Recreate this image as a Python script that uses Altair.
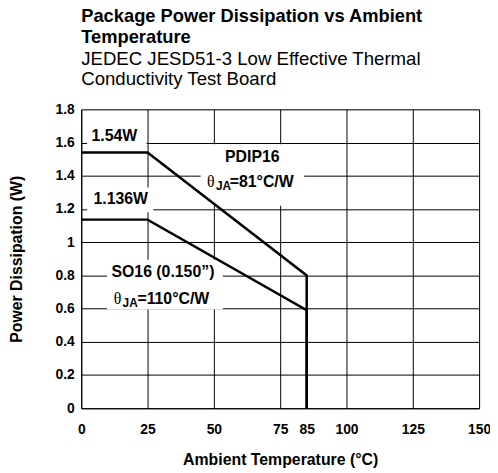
import altair as alt
import pandas as pd

# ---- data ----
temps_pdip = [0, 25, 85, 85]
power_pdip = [1.54, 1.54, 0.80, 0.0]
temps_so16 = [0, 25, 85, 85]
power_so16 = [1.136, 1.136, 0.591, 0.0]

x_ticks = [0, 25, 50, 75, 85, 100, 125, 150]
y_ticks = [0, 0.2, 0.4, 0.6, 0.8, 1.0, 1.2, 1.4, 1.6, 1.8]

FONT = "Liberation Sans"

lines_df = pd.DataFrame(
    {
        "temp": temps_pdip + temps_so16,
        "power": power_pdip + power_so16,
        "series": ["PDIP16"] * len(temps_pdip) + ["SO16"] * len(temps_so16),
        "idx": list(range(len(temps_pdip))) + list(range(len(temps_so16))),
    }
)

# white label boxes (data coordinates)
box_x = [2.2, 2.2, 45.0, 9.7]
box_x2 = [24.6, 27.2, 84.0, 53.4]
box_y = [1.59, 1.18, 1.22, 0.595]
box_y2 = [1.71, 1.33, 1.59, 0.894]
boxes_df = pd.DataFrame({"x": box_x, "x2": box_x2, "y": box_y, "y2": box_y2})

# plain bold labels
lab_text = ["1.54W", "1.136W", "PDIP16", "SO16 (0.150\u201d)"]
lab_x = [12.5, 14.9, 64.5, 30.8]
lab_y = [1.64, 1.257, 1.51, 0.82]
labels_df = pd.DataFrame({"text": lab_text, "x": lab_x, "y": lab_y})

# theta labels: anchor centers
th_rest = ["=81\u00b0C/W", "=110\u00b0C/W"]
th_x = [64.2, 30.5]
th_y = [1.36, 0.655]
th_df = pd.DataFrame({"rest": th_rest, "x": th_x, "y": th_y,
                      "d0": [-45, -49], "d1": [-36, -40], "d2": [-22, -25]})

xs = alt.Scale(domain=[0, 150], nice=False, zero=False)
ys = alt.Scale(domain=[0, 1.8], nice=False)

x_axis = alt.Axis(
    values=x_ticks,
    tickCount=len(x_ticks),
    title="Ambient Temperature (\u00b0C)",
    grid=True,
    gridColor="black",
    gridOpacity=alt.condition("datum.value == 85", alt.value(0), alt.value(1)),
    gridWidth=1,
    ticks=False,
    domainColor="black",
    labelFont=FONT,
    labelFontSize=14,
    labelFontWeight="bold",
    labelColor="black",
    labelPadding=15,
    labelOverlap=False,
    titleFont=FONT,
    titleFontSize=16,
    titleFontWeight="bold",
    titleColor="black",
    titlePadding=15,
    labelFlush=False,
)
y_axis = alt.Axis(
    values=y_ticks,
    tickCount=len(y_ticks),
    title="Power Dissipation (W)",
    grid=True,
    gridColor="black",
    gridWidth=1,
    ticks=False,
    domainColor="black",
    labelExpr="format(datum.value, '.2~f')",
    labelFont=FONT,
    labelFontSize=14,
    labelFontWeight="bold",
    labelColor="black",
    labelPadding=7,
    labelOverlap=False,
    titleFont=FONT,
    titleFontSize=16,
    titleFontWeight="bold",
    titleColor="black",
    titlePadding=31,
)

rects = alt.Chart(boxes_df).mark_rect(color="white").encode(
    x=alt.X("x:Q", scale=xs, axis=x_axis), x2="x2:Q",
    y=alt.Y("y:Q", scale=ys, axis=y_axis), y2="y2:Q",
)

base_lines = alt.Chart(lines_df).mark_line(color="black", strokeWidth=2.5).encode(
    x=alt.X("temp:Q", scale=xs),
    y=alt.Y("power:Q", scale=ys),
    detail="series:N",
    order="idx:O",
)

labels = alt.Chart(labels_df).mark_text(
    font=FONT, fontSize=16, fontWeight="bold", color="black", baseline="middle"
).encode(x=alt.X("x:Q", scale=xs), y=alt.Y("y:Q", scale=ys), text="text:N")

layers = [rects, base_lines, labels]
for i in range(len(th_df)):
    row = th_df.iloc[[i]]
    t0 = alt.Chart(row).mark_text(
        font="Liberation Serif", fontSize=16, color="black", baseline="middle",
        align="left", text="\u03b8", dx=int(row["d0"].iloc[0])
    ).encode(x=alt.X("x:Q", scale=xs), y=alt.Y("y:Q", scale=ys))
    t1 = alt.Chart(row).mark_text(
        font=FONT, fontSize=12, fontWeight="bold", color="black", baseline="middle",
        align="left", text="JA", dx=int(row["d1"].iloc[0]), dy=4
    ).encode(x=alt.X("x:Q", scale=xs), y=alt.Y("y:Q", scale=ys))
    t2 = alt.Chart(row).mark_text(
        font=FONT, fontSize=16, fontWeight="bold", color="black", baseline="middle",
        align="left", dx=int(row["d2"].iloc[0])
    ).encode(x=alt.X("x:Q", scale=xs), y=alt.Y("y:Q", scale=ys), text="rest:N")
    layers += [t0, t1, t2]

chart = alt.layer(*layers).properties(
    width=402,
    height=302,
    autosize=alt.AutoSizeParams(type="none"),
    padding={"left": 74, "top": 100, "right": 11, "bottom": 62},
    title=alt.TitleParams(
        text=["Package Power Dissipation vs Ambient", "Temperature"],
        subtitle=["JEDEC JESD51-3 Low Effective Thermal", "Conductivity Test Board"],
        anchor="start",
        frame="group",
        font=FONT,
        fontSize=18.5,
        fontWeight="bold",
        lineHeight=21,
        color="black",
        subtitleFont=FONT,
        subtitleFontSize=18.8,
        subtitleLineHeight=20,
        subtitleColor="black",
        subtitlePadding=4,
        offset=14,
    ),
).configure_view(stroke="black", strokeWidth=1).configure(background="white")

chart.save("out.html", embed_options={"renderer": "svg", "actions": False})
